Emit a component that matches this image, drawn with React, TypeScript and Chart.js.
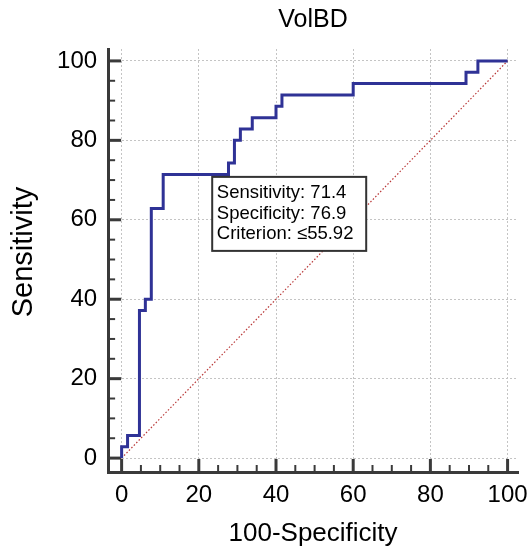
import React, { useEffect, useRef } from 'react';
import { Chart, registerables } from 'chart.js';

Chart.register(...registerables);

const FONT = "'Liberation Sans', Arial, sans-serif";
Chart.defaults.font.family = FONT;

// ---- data ----
const chartTitle = 'VolBD';
const xAxisTitle = '100-Specificity';
const yAxisTitle = 'Sensitivity';
const majorTicks = [0, 20, 40, 60, 80, 100];
const minorTickStep = 5;
// ROC curve: 100-specificity where sensitivity jumps, and the sensitivity reached there
const rocJumpX = [0, 1.54, 4.62, 6.15, 7.69, 10.77, 27.69, 29.23, 30.77, 33.85, 40.0, 41.54, 60.0, 89.23, 92.31];
const rocJumpY = [2.86, 5.71, 37.14, 40.0, 62.86, 71.43, 74.29, 80.0, 82.86, 85.71, 88.57, 91.43, 94.29, 97.14, 100];
const rocStart = [0, 0];
const rocEnd = [100, 100];
const diagonalX = [0, 100];
const diagonalY = [0, 100];
const criterionPoint = [23.08, 71.43];
const criterionLines = ['Sensitivity: 71.4', 'Specificity: 76.9', 'Criterion: \u226455.92'];

// ---- styles ----
const rocColor = '#2f3296';
const diagColor = 'rgb(185,55,55)';
const axisColor = '#3a3a3a';
const gridColor = '#c4c4c4';

function buildRocPoints() {
  const pts = [{ x: rocStart[0], y: rocStart[1] }];
  let prev = rocStart[1];
  rocJumpX.forEach((x, i) => {
    pts.push({ x, y: prev });
    pts.push({ x, y: rocJumpY[i] });
    prev = rocJumpY[i];
  });
  pts.push({ x: rocEnd[0], y: rocEnd[1] });
  return pts;
}

const decorPlugin = {
  id: 'decor',
  beforeDatasetsDraw(chart: any) {
    const { ctx, chartArea, scales } = chart;
    const xs = scales.x;
    const ys = scales.y;
    ctx.save();
    ctx.strokeStyle = axisColor;
    for (let v = 0; v <= 100; v += minorTickStep) {
      const major = majorTicks.includes(v);
      const len = major ? 13 : 7;
      ctx.lineWidth = major ? 3 : 2;
      const px = xs.getPixelForValue(v);
      ctx.beginPath();
      ctx.moveTo(px, chartArea.bottom);
      ctx.lineTo(px, chartArea.bottom - len);
      ctx.stroke();
      const py = ys.getPixelForValue(v);
      ctx.beginPath();
      ctx.moveTo(chartArea.left, py);
      ctx.lineTo(chartArea.left + len, py);
      ctx.stroke();
    }
    ctx.restore();
  },
  afterDatasetsDraw(chart: any) {
    const { ctx, scales } = chart;
    const bx = scales.x.getPixelForValue(criterionPoint[0]) + 1.5;
    const by = scales.y.getPixelForValue(criterionPoint[1]) + 2.5;
    const w = 154;
    const h = 74;
    ctx.save();
    ctx.fillStyle = '#ffffff';
    ctx.fillRect(bx, by, w, h);
    ctx.strokeStyle = '#333333';
    ctx.lineWidth = 2;
    ctx.strokeRect(bx, by, w, h);
    ctx.fillStyle = '#000000';
    ctx.font = `18.5px ${FONT}`;
    ctx.textAlign = 'left';
    ctx.textBaseline = 'middle';
    criterionLines.forEach((t, i) => {
      ctx.fillText(t, bx + 4.6, by + 15.8 + i * 20.75);
    });
    ctx.restore();
  },
  afterDraw(chart: any) {
    // y-axis title, rotated
    const { ctx } = chart;
    ctx.save();
    ctx.translate(23.5, 252);
    ctx.rotate(-Math.PI / 2);
    ctx.fillStyle = '#000000';
    ctx.font = `29px ${FONT}`;
    ctx.textAlign = 'center';
    ctx.textBaseline = 'middle';
    ctx.fillText(yAxisTitle, 0, 0);
    ctx.restore();
  },
};

export default function App() {
  const ref = useRef<HTMLCanvasElement>(null);

  useEffect(() => {
    if (!ref.current) return;
    const chart = new Chart(ref.current, {
      type: 'scatter',
      data: {
        datasets: [
          {
            data: buildRocPoints(),
            borderColor: rocColor,
            backgroundColor: rocColor,
            borderWidth: 3,
            pointRadius: 0,
            showLine: true,
            tension: 0,
          },
          {
            data: diagonalX.map((x, i) => ({ x, y: diagonalY[i] })),
            borderColor: diagColor,
            backgroundColor: diagColor,
            borderWidth: 1.2,
            borderDash: [1.5, 2],
            pointRadius: 0,
            showLine: true,
          },
        ],
      },
      options: {
        responsive: false,
        animation: false,
        layout: { padding: { left: 57.07, right: 12, top: 0, bottom: 0 } },
        plugins: {
          legend: { display: false },
          tooltip: { enabled: false },
          title: {
            display: true,
            text: chartTitle,
            color: '#000',
            fullSize: false,
            font: { size: 25, weight: 'normal', family: FONT },
            padding: { top: 5, bottom: 14 },
          },
        },
        scales: {
          x: {
            type: 'linear',
            min: -3.5,
            max: 102.7,
            afterBuildTicks: (s: any) => {
              s.ticks = majorTicks.map((v) => ({ value: v }));
            },
            ticks: {
              padding: 0,
              color: '#000',
              font: { size: 24, family: FONT },
              maxRotation: 0,
              autoSkip: false,
              callback: (v: any) => String(v),
            },
            grid: {
              color: gridColor,
              lineWidth: 1,
              drawTicks: true,
              tickLength: 9,
              tickColor: 'transparent',
            },
            border: { display: true, color: axisColor, width: 3, dash: [2, 2] },
            title: {
              display: true,
              text: xAxisTitle,
              color: '#000',
              font: { size: 26, family: FONT },
              padding: { top: 8, bottom: 0 },
            },
          },
          y: {
            type: 'linear',
            min: -3.5,
            max: 103,
            afterBuildTicks: (s: any) => {
              s.ticks = majorTicks.map((v) => ({ value: v }));
            },
            ticks: {
              padding: 0,
              color: '#000',
              font: { size: 24, family: FONT },
              autoSkip: false,
              callback: (v: any) => String(v),
            },
            grid: {
              color: gridColor,
              lineWidth: 1,
              drawTicks: true,
              tickLength: 11,
              tickColor: 'transparent',
            },
            border: { display: true, color: axisColor, width: 3, dash: [2, 2] },
            title: { display: false },
          },
        },
      } as any,
      plugins: [decorPlugin],
    });
    return () => chart.destroy();
  }, []);

  return (
    <div style={{ position: 'absolute', left: 0, top: 0, width: 530, height: 549 }}>
      <canvas ref={ref} width={530} height={549} style={{ display: 'block' }} />
    </div>
  );
}
